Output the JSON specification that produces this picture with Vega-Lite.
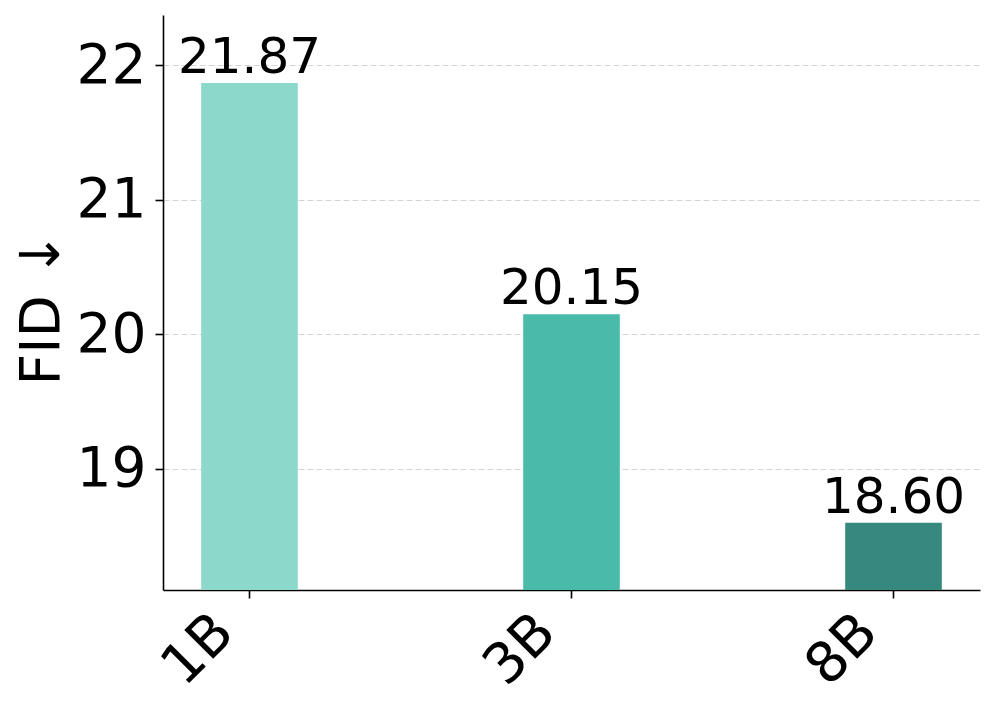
{
  "$schema": "https://vega.github.io/schema/vega-lite/v6.json",
  "width": 817,
  "height": 575,
  "autosize": {"type": "none"},
  "padding": {"left": 163, "top": 15, "right": 17, "bottom": 129},
  "background": "white",
  "config": {"view": {"stroke": null}, "font": "DejaVu Sans"},
  "data": {"values": [
    {"model": "1B", "fid": 21.87},
    {"model": "3B", "fid": 20.15},
    {"model": "8B", "fid": 18.60}
  ]},
  "encoding": {
    "x": {
      "field": "model", "type": "nominal", "sort": null,
      "scale": {"paddingInner": 0.7, "paddingOuter": 0.1186},
      "axis": {
        "title": null, "labelAngle": -45, "labelAlign": "right", "labelBaseline": "middle",
        "labelFontSize": 56, "labelColor": "black", "labelOffset": -25, "labelPadding": 25,
        "tickColor": "black", "tickSize": 8, "tickWidth": 1.6,
        "domainColor": "black", "domainWidth": 1.6, "grid": false,
        "labelOverlap": false, "labelBound": false, "labelFlush": false
      }
    },
    "y": {
      "field": "fid", "type": "quantitative",
      "scale": {"domain": [18.1, 22.375], "nice": false, "zero": false},
      "axis": {
        "values": [19, 20, 21, 22], "labelFontSize": 55, "labelColor": "black", "labelPadding": 9,
        "grid": true, "gridDash": [6, 3], "gridColor": "#d4d4d4", "gridWidth": 1,
        "domainColor": "black", "domainWidth": 1.6, "tickColor": "black", "tickSize": 8, "tickWidth": 1.6,
        "title": "FID ↓", "titleFontSize": 55, "titleFontWeight": "normal", "titleColor": "black",
        "titleAngle": 270, "titleX": -105, "titleY": 293, "titleBaseline": "alphabetic", "titleAlign": "center",
        "labelOverlap": false, "labelFlush": false
      }
    }
  },
  "layer": [
    {
      "mark": {"type": "bar", "clip": true},
      "encoding": {
        "color": {"field": "model", "type": "nominal", "sort": null,
          "scale": {"domain": ["1B", "3B", "8B"], "range": ["#8cd9cb", "#4abaab", "#35897f"]},
          "legend": null}
      }
    },
    {
      "mark": {"type": "text", "dy": -10, "baseline": "alphabetic", "fontSize": 50, "color": "black"},
      "encoding": {"text": {"field": "fid", "type": "quantitative", "format": ".2f"}}
    }
  ]
}
